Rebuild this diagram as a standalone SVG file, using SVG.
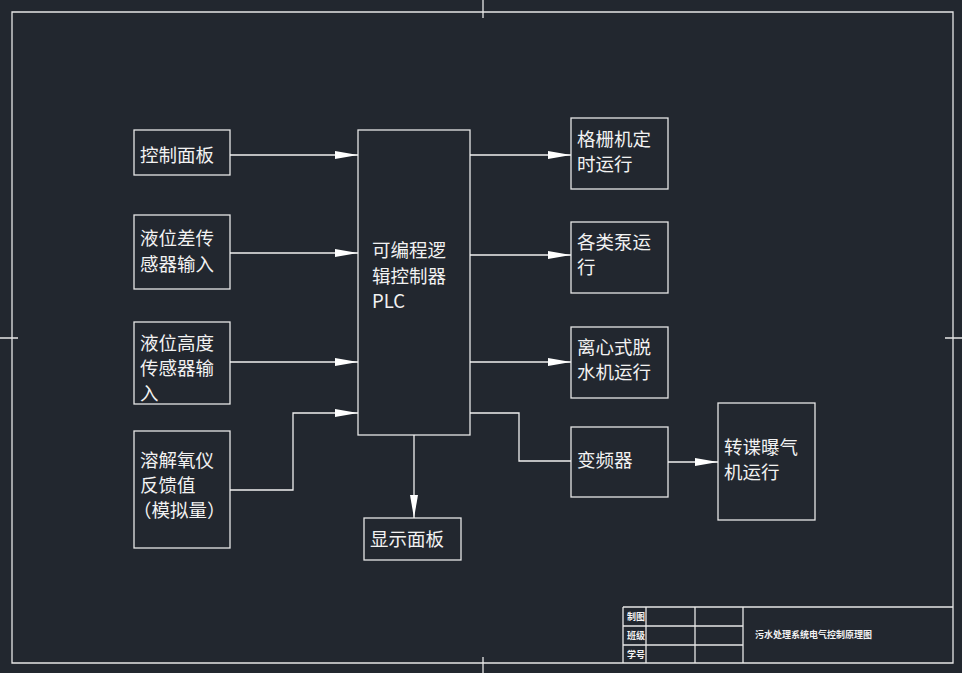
<svg xmlns="http://www.w3.org/2000/svg" width="962" height="673" viewBox="0 0 962 673">
<style>
.b{fill:none;stroke:#e6e6e6;stroke-width:1.3}
.c{fill:none;stroke:#f0f0f0;stroke-width:1.3}
.t{font-family:"Noto Sans CJK SC","Liberation Sans",sans-serif;font-size:18.5px;fill:#f2f2f2}
.s{font-family:"Noto Sans CJK SC",sans-serif;font-size:9px;fill:#f2f2f2;font-weight:bold}
</style>
<defs><marker id="a" markerWidth="24" markerHeight="10" refX="23" refY="5" orient="auto" markerUnits="userSpaceOnUse"><path d="M0,1 L23,5 L0,9 Z" fill="#fff"/></marker></defs>
<rect width="962" height="673" fill="#22272f"/>
<g id="frame" class="b">
<path d="M12,12 H953 V663 H12 Z"/>
<path d="M483,0 V18 M483,657 V673 M0,338 H18 M945,338 H962"/>
<path d="M623,607 H953 M623,626 H743 M623,645 H743 M623,607 V663 M646,607 V663 M695,607 V663 M743,607 V663"/>
</g>
<g id="titleblock">
<text class="s" x="627" y="620">制图</text><text class="s" x="627" y="639">班级</text><text class="s" x="627" y="658">学号</text>
<text class="s" x="755" y="638">污水处理系统电气控制原理图</text>
</g>
<g id="n1"><rect class="b" x="134" y="130" width="96" height="45"/><text class="t" x="140" y="162">控制面板</text></g>
<g id="n2"><rect class="b" x="134" y="215" width="96" height="74"/><text class="t" x="140" y="245">液位差传</text><text class="t" x="140" y="271">感器输入</text></g>
<g id="n3"><rect class="b" x="134" y="322" width="96" height="82"/><text class="t" x="140" y="350">液位高度</text><text class="t" x="140" y="375">传感器输</text><text class="t" x="140" y="400">入</text></g>
<g id="n4"><rect class="b" x="134" y="431" width="96" height="117"/><text class="t" x="140" y="467">溶解氧仪</text><text class="t" x="140" y="492">反馈值</text><text class="t" x="133" y="517">（模拟量）</text></g>
<g id="plc"><rect class="b" x="358" y="130" width="112" height="305"/><text class="t" x="372" y="257">可编程逻</text><text class="t" x="372" y="283">辑控制器</text><text class="t" x="372" y="308" font-family="Liberation Sans" font-size="17">PLC</text></g>
<g id="disp"><rect class="b" x="364" y="518" width="97" height="42"/><text class="t" x="370" y="546">显示面板</text></g>
<g id="o1"><rect class="b" x="571" y="118" width="97" height="71"/><text class="t" x="577" y="146">格栅机定</text><text class="t" x="577" y="171">时运行</text></g>
<g id="o2"><rect class="b" x="571" y="222" width="97" height="71"/><text class="t" x="577" y="249">各类泵运</text><text class="t" x="577" y="274">行</text></g>
<g id="o3"><rect class="b" x="571" y="327" width="97" height="71"/><text class="t" x="577" y="354">离心式脱</text><text class="t" x="577" y="379">水机运行</text></g>
<g id="o4"><rect class="b" x="571" y="427" width="97" height="70"/><text class="t" x="577" y="467">变频器</text></g>
<g id="o5"><rect class="b" x="718" y="403" width="97" height="117"/><text class="t" x="724" y="454">转谍曝气</text><text class="t" x="724" y="479">机运行</text></g>
<g id="connectors" class="c">
<path d="M230,155 H358" marker-end="url(#a)"/>
<path d="M230,253 H358" marker-end="url(#a)"/>
<path d="M230,362 H358" marker-end="url(#a)"/>
<path d="M230,490 H293 V413 H358" marker-end="url(#a)"/>
<path d="M470,155 H571" marker-end="url(#a)"/>
<path d="M470,255 H571" marker-end="url(#a)"/>
<path d="M470,362 H571" marker-end="url(#a)"/>
<path d="M470,413 H519 V461 H571"/>
<path d="M668,462 H718" marker-end="url(#a)"/>
<path d="M414,435 V518" marker-end="url(#a)"/>
</g>
</svg>
